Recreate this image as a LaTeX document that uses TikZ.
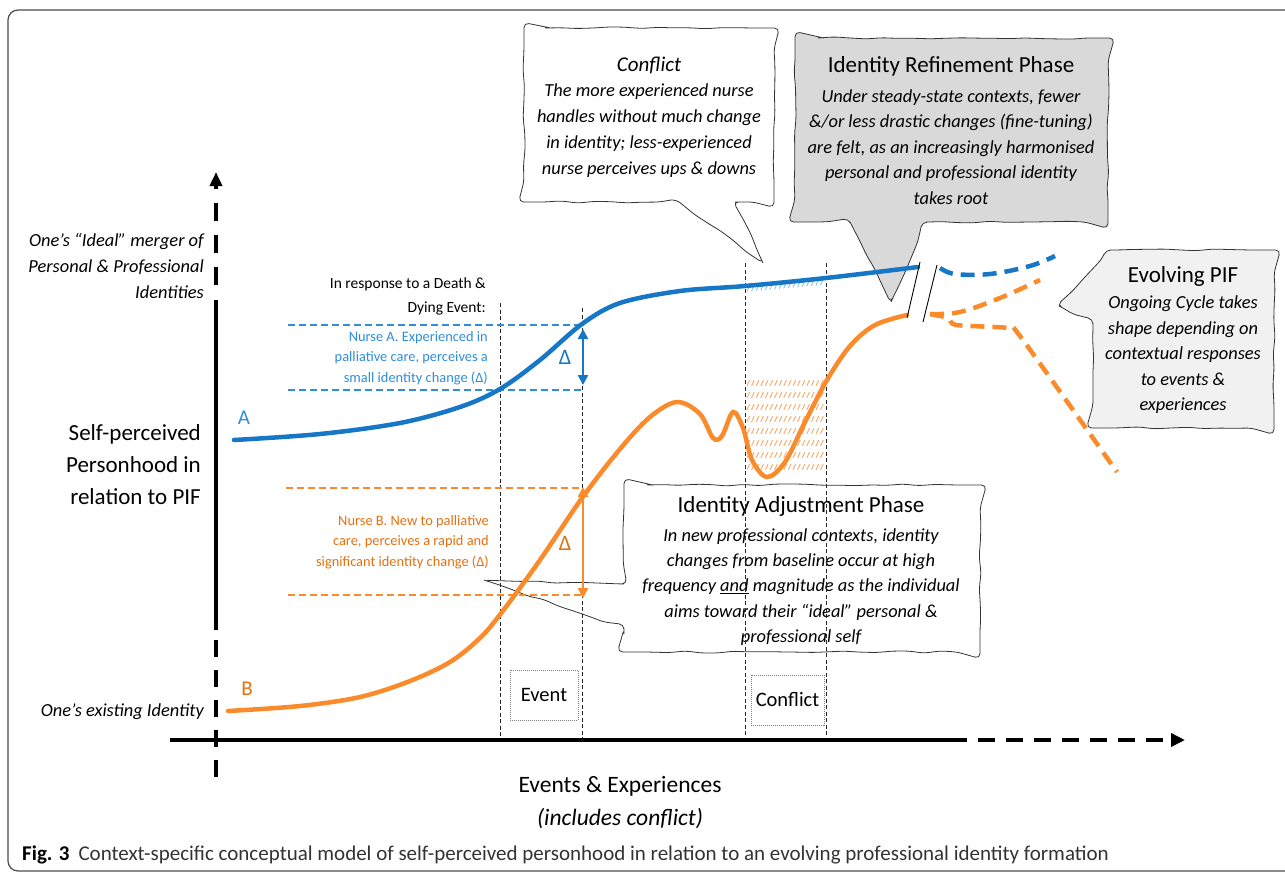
\documentclass[tikz,border=0pt]{standalone}
\usepackage{fontspec}
\setmainfont{Carlito}
\usetikzlibrary{arrows.meta,decorations.pathmorphing}
\newcommand\myfs[2]{\fontsize{#1}{#2}\selectfont}
\definecolor{cblue}{HTML}{1677C6}
\definecolor{corange}{HTML}{FA8A2A}
\definecolor{tblue}{HTML}{2F8DDA}
\definecolor{torange}{HTML}{E5700F}
\definecolor{hblue}{HTML}{8EC2EE}
\definecolor{horange}{HTML}{F8A866}
\definecolor{cgray}{HTML}{D9D9D9}
\definecolor{clight}{HTML}{F1F1F1}
\begin{document}
\begin{tikzpicture}[x=1pt,y=-1pt,
  callout/.style={decorate,decoration={random steps,segment length=16pt,amplitude=1.1pt},rounded corners=5pt,line width=0.8pt,draw=black!80},
  axisline/.style={line width=4.5pt,black},
  curveA/.style={cblue,line width=4.5pt,line cap=round},
  curveB/.style={corange,line width=4.5pt,line cap=round},
  vguide/.style={black!85,line width=1pt,dash pattern=on 4pt off 2.5pt},
  hguideA/.style={tblue,line width=1.4pt,dash pattern=on 7pt off 4pt},
  hguideB/.style={corange,line width=1.4pt,dash pattern=on 7pt off 4pt},
  tickbox/.style={draw=gray,densely dotted,line width=1pt,inner sep=0pt},
  body/.style={align=center,inner sep=0pt}]
\pgfmathsetseed{7}
\useasboundingbox (0,0) rectangle (1285,873);
\clip (0,0) rectangle (1285,873);
% frame
\draw[gray!60!black,line width=1.2pt,rounded corners=10pt] (8,10) rectangle (1300,871);

% callouts
\draw[callout,fill=white] (540,28) -- (758,28) .. controls (766.8,28) and (774,35.2) .. (774,44) -- (774,186) .. controls (774,194.8) and (766.8,202) .. (758,202) -- (735,202) -- (763,263) -- (679,202) -- (540,202) .. controls (531.2,202) and (524,194.8) .. (524,186) -- (524,44) .. controls (524,35.2) and (531.2,28) .. (540,28) -- cycle;
\draw[callout,fill=cgray] (813,38) -- (1090,38) .. controls (1099.9,38) and (1108,46.1) .. (1108,56) -- (1108,204) .. controls (1108,213.9) and (1099.9,222) .. (1090,222) -- (926,222) -- (891,302) -- (850,222) -- (813,222) .. controls (803.1,222) and (795,213.9) .. (795,204) -- (795,56) .. controls (795,46.1) and (803.1,38) .. (813,38) -- cycle;
\draw[callout,fill=clight] (1111,250) -- (1256,250) .. controls (1265.9,250) and (1274,258.1) .. (1274,268) -- (1274,410) .. controls (1274,419.9) and (1265.9,428) .. (1256,428) -- (1111,428) .. controls (1101.1,428) and (1093,419.9) .. (1093,410) -- (1093,323) -- (1059,306) -- (1099,262) .. controls (1103,255) and (1106,250) .. (1111,250) -- cycle;
\draw[callout] (642,485) -- (962,485) .. controls (971.9,485) and (980,493.1) .. (980,503) -- (980,634) .. controls (980,643.9) and (971.9,652) .. (962,652) -- (642,652) .. controls (632.1,652) and (624,643.9) .. (624,634) -- (624,628) -- (484,580) -- (624,584) -- (624,503) .. controls (624,493.1) and (632.1,485) .. (642,485) -- cycle;

% callout texts
\node[body,font=\myfs{21}{24}\itshape] (conflictTitle) at (649,66) {Conflict};
\node[body,font=\myfs{18.4}{26}\itshape] (conflictTxt) at (649,131) {The more experienced nurse\\handles without much change\\in identity; less-experienced\\nurse perceives ups \& downs};
\node[body,font=\myfs{23}{26}] (refTitle) at (951,66) {Identity Refinement Phase};
\node[body,font=\myfs{18.4}{25.5}\itshape] (refTxt) at (951,147) {Under steady-state contexts, fewer\\\&/or less drastic changes (fine-tuning)\\are felt, as an increasingly harmonised\\personal and professional identity\\takes root};
\node[body,font=\myfs{23}{26}] (evoTitle) at (1183,276) {Evolving PIF};
\node[body,font=\myfs{18.4}{25.5}\itshape] (evoTxt) at (1183,355) {Ongoing Cycle takes\\shape depending on\\contextual responses\\to events \&\\experiences};
\node[body,font=\myfs{23}{26}] (adjTitle) at (801,506) {Identity Adjustment Phase};
\node[body,font=\myfs{18.4}{25.3}\itshape] (adjTxt) at (801,587) {In new professional contexts, identity\\changes from baseline occur at high\\frequency \underline{and} magnitude as the individual\\aims toward their “ideal” personal \&\\professional self};

% hatching
\foreach \k in {0,...,7}{
  \foreach \xx in {747,751.6,...,822}{
    \draw[horange,line width=0.9pt] (\xx,383+12*\k+2.8) -- (\xx+2.6,383+12*\k-2.8);
  }
}
\foreach \xx in {747,751.6,...,822}{
  \draw[hblue,line width=0.9pt] ({\xx},{289-(\xx-745)*0.09+2.8}) -- ({\xx+2.4},{289-(\xx-745)*0.09-2.8});
}

% guides
\draw[vguide] (500,303) -- (500,740);
\draw[vguide] (582,308) -- (582,740);
\draw[vguide] (745,263) -- (745,740);
\draw[vguide] (826,263) -- (826,740);
\draw[hguideA] (288,325) -- (582,325);
\draw[hguideA] (288,390) -- (582,390);
\draw[hguideB] (286,488) -- (582,488);
\draw[hguideB] (288,595) -- (582,595);

% event boxes
\node[tickbox,minimum width=68pt,minimum height=50pt,font=\myfs{20.5}{24}] (ev) at (544,695) {Event};
\node[tickbox,minimum width=73pt,minimum height=50pt,font=\myfs{20.5}{24}] (cf) at (787.5,700) {Conflict};

% axes
\coordinate (ytop) at (216,172);
\coordinate (xend) at (1185,740);
\draw[axisline] (216,300) -- (216,630);
\draw[axisline,dash pattern=on 18pt off 14pt,-{Triangle[length=14pt,width=12pt]}] (216,285) -- (ytop);
\draw[axisline,dash pattern=on 17pt off 13pt] (216,640) -- (216,785);
\draw[axisline] (170,740) -- (967,740);
\draw[axisline,dash pattern=on 17pt off 11pt,-{Triangle[length=14pt,width=13pt]}] (978,740) -- (xend);

% curves
\draw[curveA] plot[smooth,tension=0.55] coordinates {(234,440) (320,434) (400,423) (460,407) (500,389) (540,360) (582,324) (620,303) (680,291) (745,286) (826,278) (918,267)};
\draw[curveB] plot[smooth,tension=0.55] coordinates {(228,711) (300,706) (360,697) (410,681) (450,662) (480,638) (502,612) (540,560) (582,498) (620,449) (650,417) (677,402) (700,414) (713,438) (722,436) (733,412) (743,428) (752,460) (767,477) (785,462) (805,422) (827,380) (850,346) (875,325) (907,315)};
\draw[curveA,dash pattern=on 14pt off 8pt,line cap=butt] plot[smooth,tension=0.6] coordinates {(940,268) (955,274) (990,274) (1030,266) (1055,256)};
\draw[curveB,dash pattern=on 14pt off 8pt,line cap=butt] plot[smooth,tension=0.6] coordinates {(930,314) (960,312) (1000,298) (1040,280)};
\draw[curveB,dash pattern=on 14pt off 8pt,line cap=butt] plot[smooth,tension=0.4] coordinates {(930,314) (948,318) (956,325) (1008,328) (1020,336) (1117,472)};

% break marks
\draw[black,line width=0.9pt] (907,318) -- (920,262);
\draw[black,line width=0.9pt] (923,322) -- (937,265);

% delta arrows
\coordinate (dAt) at (583,329);
\coordinate (dAb) at (583,385);
\coordinate (dBt) at (583,487);
\coordinate (dBb) at (583,598);
\draw[cblue,line width=2.6pt,{Triangle[length=10pt,width=10pt]}-{Triangle[length=10pt,width=10pt]}] (dAt) -- (dAb);
\draw[corange,line width=2.6pt,{Triangle[length=10pt,width=10pt]}-{Triangle[length=10pt,width=10pt]}] (dBt) -- (dBb);
\node[text=cblue,font=\myfs{22}{24}] (deltaA) at (565,357) {Δ};
\node[text=torange,font=\myfs{22}{24}] (deltaB) at (565,543) {Δ};

% left labels
\node[anchor=east,align=right,inner sep=0pt,font=\myfs{18.4}{26}\itshape] (ideal) at (204,266) {One’s “Ideal” merger of\\Personal \& Professional\\Identities};
\node[anchor=east,align=right,inner sep=0pt,font=\myfs{23}{32}] (ylab) at (201,465) {Self-perceived\\Personhood in\\relation to PIF};
\node[anchor=east,inner sep=0pt,font=\myfs{18.4}{22}\itshape] (exist) at (204,712) {One’s existing Identity};
\node[anchor=east,align=right,inner sep=0pt,font=\myfs{15.5}{24}] (resp) at (486,296) {In response to a Death \&\\Dying Event:};
\node[anchor=east,align=right,inner sep=0pt,font=\myfs{14.4}{20.5},text=tblue] (nA) at (488,358) {Nurse A. Experienced in\\palliative care, perceives a\\small identity change (Δ)};
\node[anchor=east,align=right,inner sep=0pt,font=\myfs{14.4}{20.5},text=torange] (nB) at (489,542) {Nurse B. New to palliative\\care, perceives a rapid and\\significant identity change (Δ)};
\node[text=tblue,font=\myfs{21}{24}] (labA) at (244,418) {A};
\node[text=torange,font=\myfs{21}{24}] (labB) at (247,689) {B};

% x label
\node[body,font=\myfs{23.5}{33}] (xlab) at (620,803) {Events \& Experiences\\\textit{(includes conflict)}};

% caption
\node[anchor=base west,inner sep=0pt,font=\myfs{21}{24},text=black!80] (cap) at (22,860) {\textcolor{black}{\textbf{Fig. 3}}\hspace{9pt}Context-specific conceptual model of self-perceived personhood in relation to an evolving professional identity formation};
\end{tikzpicture}
\end{document}
